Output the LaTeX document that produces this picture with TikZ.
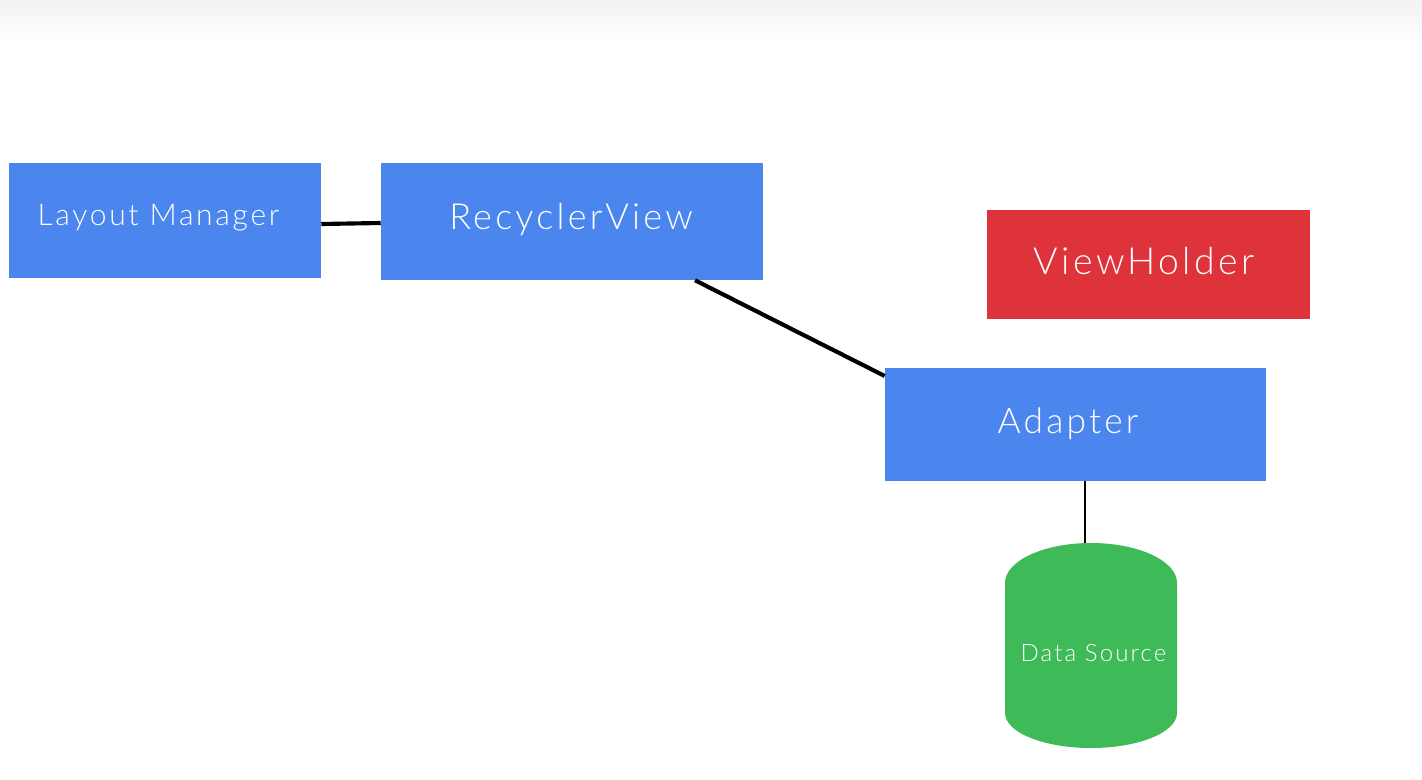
\documentclass[tikz,border=0pt]{standalone}
\usepackage{fontspec}
\setmainfont{Lato}[UprightFont=* Light, LetterSpace=9]
\usetikzlibrary{calc}
\definecolor{gblue}{HTML}{4A86EE}
\definecolor{gred}{HTML}{DF333B}
\definecolor{ggreen}{HTML}{3EBB58}
\tikzset{
  box/.style={draw=none, inner sep=0pt},
  lbl/.style={inner sep=0pt, text=white, anchor=base},
  link/.style={draw=black, line width=3.1pt},
  thinlink/.style={draw=black, line width=1.6pt}
}
\begin{document}
\begin{tikzpicture}[x=0.75pt,y=-0.75pt]
\useasboundingbox (0,0) rectangle (1422,780);
\fill[white] (0,0) rectangle (1422,780);
\shade[top color=black!5, bottom color=white] (0,0) rectangle (1422,42);

\node[box, fill=gblue, minimum width=312*0.75pt, minimum height=115*0.75pt] (lm) at (165,220.5) {};
\node[box, fill=gblue, minimum width=382*0.75pt, minimum height=117*0.75pt] (rv) at (572,221.5) {};
\node[box, fill=gred, minimum width=323*0.75pt, minimum height=109*0.75pt] (vh) at (1148.5,264.5) {};
\node[box, fill=gblue, minimum width=381*0.75pt, minimum height=113*0.75pt] (ad) at (1075.5,424.5) {};

\fill[ggreen] (1005,713) -- (1005,583) arc[start angle=180, end angle=360, x radius=86, y radius=40] -- (1177,713) arc[start angle=0, end angle=180, x radius=86, y radius=35] -- cycle;
\node[box, minimum width=172*0.75pt, minimum height=205*0.75pt] (ds) at (1091,645.5) {};

\node[lbl, font=\fontsize{22.5}{26}\selectfont] (lmt) at (158.5,226) {Layout Manager};
\node[lbl, font=\fontsize{27}{31}\selectfont] (rvt) at (571,230) {RecyclerView};
\node[lbl, font=\fontsize{28}{32}\selectfont] (vht) at (1144,275) {ViewHolder};
\node[lbl, font=\fontsize{26.5}{30}\selectfont] (adt) at (1068,434) {Adapter};
\node[lbl, font=\fontsize{18}{21}\selectfont] (dst) at (1093.5,661) {Data Source};

\draw[link] (lm.east |- 0,224) -- (rv.west |- 0,223);
\draw[link] (rv.south -| 695,0) -- (ad.west |- 0,376);
\draw[thinlink] (ad.south -| 1085,0) -- (ds.north -| 1085,0);
\end{tikzpicture}
\end{document}
